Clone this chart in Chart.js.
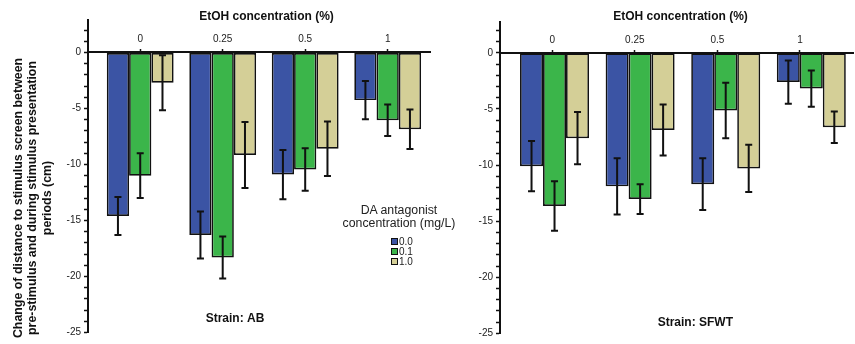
<!DOCTYPE html>
<html>
<head>
<meta charset="utf-8">
<script src="https://cdn.jsdelivr.net/npm/chart.js@4.4.1/dist/chart.umd.min.js"></script>
<style>
  html, body { margin: 0; padding: 0; background: #fff; }
  #wrap { position: relative; width: 855px; height: 344px; overflow: hidden; }
  #wrap canvas { position: absolute; left: 0; top: 0; }
  #legend { position: absolute; left: 330px; top: 204px; width: 138px; font-family: 'Liberation Sans', Arial, sans-serif; color: #222; }
  #legend .ttl { text-align: center; font-size: 12.3px; line-height: 12.7px; }
  #legend .items { margin-top: 7px; margin-left: 61px; }
  #legend .row { display: flex; align-items: center; height: 10px; font-size: 10px; }
  #legend .box { width: 5px; height: 5px; border: 1.5px solid #111; margin-right: 1px; }
</style>
</head>
<body>
<div id="wrap">
  <canvas id="chart-ab" width="855" height="344"></canvas>
  <canvas id="chart-sfwt" width="855" height="344"></canvas>
  <div id="legend"></div>
</div>
<script>
const etohLevels = ['0', '0.25', '0.5', '1'];
const doseLabels = ['0.0', '0.1', '1.0'];
const doseColors = ['#3b54a4', '#3bb54a', '#d4cf97'];

// Strain AB, one row per antagonist dose
const abMeans = [
  [-14.6, -16.3, -10.9, -4.25],
  [-11.0, -18.3, -10.45, -6.05],
  [-2.7, -9.15, -8.6, -6.85]
];
const abErrors = [
  [1.7, 2.1, 2.2, 1.7],
  [2.0, 1.87, 1.9, 1.4],
  [2.45, 2.95, 2.43, 1.76]
];

// Strain SFWT
const sfMeans = [
  [-10.1, -11.9, -11.7, -2.6],
  [-13.65, -13.03, -5.13, -3.18],
  [-7.6, -6.88, -10.3, -6.63]
];
const sfErrors = [
  [2.24, 2.5, 2.3, 1.93],
  [2.2, 1.33, 2.48, 1.62],
  [2.33, 2.27, 2.1, 1.41]
];

const yTitleLines = [
  'Change of distance to stimulus screen between',
  'pre-stimulus and during stimulus presentation',
  'periods (cm)'
];

const FONT = "'Liberation Sans', Arial, sans-serif";

const errorBars = {
  id: 'errorBars',
  afterDatasetsDraw(chart) {
    const ctx = chart.ctx;
    const yScale = chart.scales.y;
    chart.data.datasets.forEach((ds, i) => {
      const meta = chart.getDatasetMeta(i);
      meta.data.forEach((bar, j) => {
        const v = ds.data[j].y;
        const e = ds.errors[j];
        const yTop = yScale.getPixelForValue(v + e);
        const yBot = yScale.getPixelForValue(v - e);
        ctx.save();
        ctx.strokeStyle = '#111';
        ctx.lineWidth = 2;
        ctx.beginPath();
        ctx.moveTo(bar.x, yTop); ctx.lineTo(bar.x, yBot);
        ctx.moveTo(bar.x - 3.5, yTop); ctx.lineTo(bar.x + 3.5, yTop);
        ctx.moveTo(bar.x - 3.5, yBot); ctx.lineTo(bar.x + 3.5, yBot);
        ctx.stroke();
        ctx.restore();
      });
    });
  }
};

const panelText = {
  id: 'panelText',
  afterDraw(chart, args, opts) {
    const ctx = chart.ctx;
    (opts.items || []).forEach(t => {
      ctx.save();
      ctx.font = t.font || ('bold 12px ' + FONT);
      ctx.fillStyle = '#111';
      ctx.textAlign = 'center';
      ctx.textBaseline = 'middle';
      ctx.translate(t.x, t.y);
      if (t.rotate) ctx.rotate(t.rotate);
      ctx.fillText(t.text, 0, 0);
      ctx.restore();
    });
  }
};

function makePanel(canvasId, means, errors, cfg) {
  const datasets = doseLabels.map((d, k) => ({
    label: d,
    data: means[k].map((v, i) => ({ x: i, y: v })),
    errors: errors[k],
    backgroundColor: doseColors[k],
    borderColor: '#111',
    borderWidth: 1.7,
    borderSkipped: false,
    categoryPercentage: cfg.catPct,
    barPercentage: 1,
    xAxisID: 'xb'
  }));
  const levelTicks = scale => { scale.ticks = etohLevels.map((l, i) => ({ value: i })); };

  return new Chart(document.getElementById(canvasId), {
    type: 'bar',
    data: { datasets },
    options: {
      responsive: false,
      animation: false,
      layout: { padding: cfg.padding },
      plugins: {
        legend: { display: false },
        tooltip: { enabled: false },
        panelText: { items: cfg.texts }
      },
      scales: {
        xb: {
          type: 'linear', axis: 'x', display: false, offset: false,
          min: cfg.barMin, max: cfg.barMax,
          afterBuildTicks: levelTicks
        },
        x: {
          type: 'linear', position: { y: 0 }, offset: false,
          min: cfg.tickMin, max: cfg.tickMax,
          afterBuildTicks: levelTicks,
          grid: { offset: false, drawOnChartArea: false, tickLength: -4, tickWidth: 1.5, tickColor: '#111' },
          border: { color: '#111', width: 2 },
          ticks: {
            padding: -15, color: '#222', autoSkip: false, maxRotation: 0,
            font: { family: FONT, size: 10 },
            callback: v => etohLevels[v]
          }
        },
        y: {
          type: 'linear', min: -25, max: cfg.yMax,
          afterBuildTicks: scale => {
            const t = [];
            for (let v = -25; v <= Math.floor(cfg.yMax); v++) t.push({ value: v });
            scale.ticks = t;
          },
          afterFit: scale => { scale.width = cfg.yWidth; },
          grid: { drawOnChartArea: false, tickLength: 4, tickWidth: 1.5, tickColor: '#111' },
          border: { color: '#111', width: 2 },
          ticks: {
            padding: 3, color: '#222', autoSkip: false,
            font: { family: FONT, size: 10 },
            callback: v => (v % 5 === 0 ? String(v) : '')
          }
        }
      }
    },
    plugins: [errorBars, panelText]
  });
}

makePanel('chart-ab', abMeans, abErrors, {
  padding: { left: 0, right: 425, top: 20, bottom: 11.5 },
  yWidth: 88, yMax: 2.9,
  barMin: -0.633, barMax: 3.513,
  tickMin: -0.633, tickMax: 3.513,
  catPct: 0.81,
  texts: [
    { text: 'EtOH concentration (%)', x: 266.5, y: 16.5 },
    { text: 'Strain: AB', x: 235, y: 319 },
    { text: yTitleLines[0], x: 18.5, y: 198, rotate: -Math.PI / 2, font: 'bold 12.4px ' + FONT },
    { text: yTitleLines[1], x: 33, y: 198, rotate: -Math.PI / 2, font: 'bold 12.4px ' + FONT },
    { text: yTitleLines[2], x: 47.5, y: 198, rotate: -Math.PI / 2, font: 'bold 12.4px ' + FONT }
  ]
});

makePanel('chart-sfwt', sfMeans, sfErrors, {
  padding: { left: 470, right: 2, top: 21.5, bottom: 10.7 },
  yWidth: 30, yMax: 2.8,
  barMin: -0.637, barMax: 3.487,
  tickMin: -0.633, tickMax: 3.642,
  catPct: 0.806,
  texts: [
    { text: 'EtOH concentration (%)', x: 680.5, y: 16.5 },
    { text: 'Strain: SFWT', x: 695.3, y: 322.3 }
  ]
});

// legend built from the dose series
const legend = document.getElementById('legend');
legend.innerHTML = '<div class="ttl">DA antagonist<br>concentration (mg/L)</div>' +
  '<div class="items">' +
  doseLabels.map((d, k) =>
    '<div class="row"><span class="box" style="background:' + doseColors[k] + '"></span>' + d + '</div>'
  ).join('') + '</div>';
</script>
</body>
</html>
